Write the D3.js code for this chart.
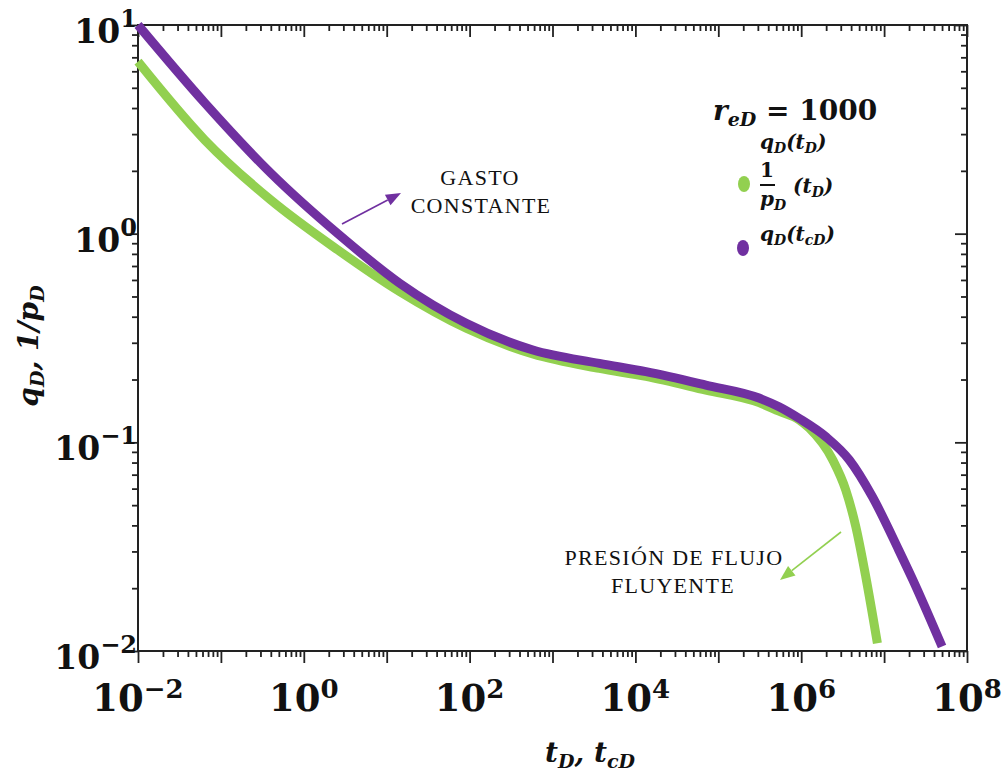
<!DOCTYPE html>
<html>
<head>
<meta charset="utf-8">
<script src="https://cdn.jsdelivr.net/npm/d3@7"></script>
<style>
    html, body { margin: 0; padding: 0; background: #fff; }
    .tick-label { font-family: "DejaVu Serif", serif; font-weight: bold; fill: #111; }
    .math { font-family: "DejaVu Serif", serif; font-weight: bold; font-style: italic; fill: #111; }
    .note { font-family: "Liberation Serif", "Times New Roman", serif; font-size: 22px; letter-spacing: 1.3px; fill: #111; }
</style>
</head>
<body>
<div id="chart"></div>
<script>
// constant rate curve, q_D(t_cD)
var tConst = [0.01, 0.064, 0.40, 2.57, 14.4, 91, 580, 3680, 13400, 70800, 3.1e5, 5.4e5, 9.5e5, 2.0e6, 3.8e6, 7.2e6, 1.5e7, 2.2e7, 5.0e7];
var qConst = [10, 4.23, 1.95, 1.0, 0.578, 0.372, 0.277, 0.239, 0.218, 0.188, 0.163, 0.148, 0.130, 0.106, 0.0824, 0.055, 0.0305, 0.0221, 0.0105];

// constant flowing pressure curve, 1/p_D(t_D)
var tPwf = [0.01, 0.064, 0.40, 2.57, 14.4, 91, 580, 3680, 13400, 70800, 3.1e5, 5.4e5, 9.5e5, 1.25e6, 2.4e6, 3.45e6, 4.56e6, 6.0e6, 8.3e6];
var qPwf = [6.67, 2.81, 1.45, 0.836, 0.527, 0.352, 0.265, 0.226, 0.207, 0.178, 0.155, 0.141, 0.128, 0.117, 0.0824, 0.059, 0.0394, 0.0228, 0.0109];

// decades that get a label
var xLabelExp = [-2, 0, 2, 4, 6, 8];
var yLabelExp = [-2, -1, 0, 1];

(function() {
    var width = 1005, height = 775;
    var margin = {top: 25, right: 38, bottom: 124, left: 138};
    var plotW = width - margin.left - margin.right,
        plotH = height - margin.top - margin.bottom;

    var purple = "#7030A0", green = "#92D050";

    var x = d3.scaleLog().domain([1e-2, 1e8]).range([0, plotW]);
    var y = d3.scaleLog().domain([1e-2, 1e1]).range([plotH, 0]);

    var svg = d3.select("#chart").append("svg")
        .attr("width", width)
        .attr("height", height);

    var plot = svg.append("g")
        .attr("transform", "translate(" + margin.left + ", " + margin.top + ")");

    function isMajor(v) {
        var l = Math.log10(v);
        return Math.abs(l - Math.round(l)) < 1e-9;
    }

    var xTicks = x.ticks(20), yTicks = y.ticks(20);
    var xMajor = xTicks.filter(isMajor), xMinor = xTicks.filter(function(v) { return !isMajor(v); });
    var yMajor = yTicks.filter(isMajor), yMinor = yTicks.filter(function(v) { return !isMajor(v); });

    // all ticks point down / left, on both sides of the frame
    function drawAxis(axisFn, scale, major, minor, translate) {
        var g = plot.append("g").attr("transform", translate);
        g.append("g").call(axisFn(scale).tickValues(minor).tickSize(6).tickFormat(""));
        g.append("g").call(axisFn(scale).tickValues(major).tickSize(12).tickFormat(""));
        g.selectAll(".domain").remove();
        g.selectAll("line").attr("stroke", "#222").attr("stroke-width", 1.8);
    }
    drawAxis(d3.axisBottom, x, xMajor, xMinor, "translate(0," + plotH + ")");
    drawAxis(d3.axisBottom, x, xMajor, xMinor, "translate(0,0)");
    drawAxis(d3.axisLeft, y, yMajor, yMinor, "translate(0,0)");
    drawAxis(d3.axisLeft, y, yMajor, yMinor, "translate(" + plotW + ",0)");

    plot.append("rect")
        .attr("width", plotW)
        .attr("height", plotH)
        .attr("fill", "none")
        .attr("stroke", "#222")
        .attr("stroke-width", 2);

    // tick labels with superscript exponents
    function expText(e) { return e < 0 ? "\u2212" + (-e) : "" + e; }

    xLabelExp.forEach(function(e) {
        var t = plot.append("text")
            .classed("tick-label", true)
            .attr("x", x(Math.pow(10, e)))
            .attr("y", plotH + 60)
            .attr("text-anchor", "middle")
            .style("font-size", "37px");
        t.append("tspan").text("10");
        t.append("tspan").attr("dy", -13).style("font-size", "26px").text(expText(e));
    });

    yLabelExp.forEach(function(e) {
        var t = plot.append("text")
            .classed("tick-label", true)
            .attr("x", -1)
            .attr("y", y(Math.pow(10, e)) + 18)
            .attr("text-anchor", "end")
            .style("font-size", "33px");
        t.append("tspan").text("10");
        t.append("tspan").attr("dy", -16).style("font-size", "24px").text(expText(e));
    });

    // curves
    var line = d3.line()
        .x(function(d) { return x(d[0]); })
        .y(function(d) { return y(d[1]); })
        .curve(d3.curveMonotoneX);

    var pwfData = tPwf.map(function(t, i) { return [t, qPwf[i]]; });
    var constData = tConst.map(function(t, i) { return [t, qConst[i]]; });

    plot.append("path")
        .datum(pwfData)
        .attr("d", line)
        .attr("fill", "none")
        .attr("stroke", green)
        .attr("stroke-width", 9)
        .attr("stroke-linejoin", "round");

    plot.append("path")
        .datum(constData)
        .attr("d", line)
        .attr("fill", "none")
        .attr("stroke", purple)
        .attr("stroke-width", 9)
        .attr("stroke-linejoin", "round");

    // math text: parts are [text, "sub"] or [text]; subscripts drop and shrink
    function mathText(parent, xPos, yPos, size, parts) {
        var t = parent.append("text").classed("math", true)
            .attr("x", xPos).attr("y", yPos).style("font-size", size + "px");
        var down = false, drop = Math.round(size * 0.22);
        parts.forEach(function(p) {
            var s = t.append("tspan").text(p[0]);
            if (p[1] == "sub") {
                s.style("font-size", Math.round(size * 0.68) + "px");
                if (!down) s.attr("dy", drop);
                down = true;
            } else {
                if (down) s.attr("dy", -drop);
                down = false;
                if (p[1] == "up") s.style("font-style", "normal");
            }
        });
        return t;
    }

    // axis titles
    mathText(svg, 0, 0, 28, [["q"], ["D", "sub"], [", 1/p"], ["D", "sub"]])
        .attr("transform", "translate(38, 346) rotate(-90)")
        .attr("text-anchor", "middle");

    mathText(svg, 590, 762, 28, [["t"], ["D", "sub"], [", t"], ["cD", "sub"]])
        .attr("text-anchor", "middle");

    // legend
    var legend = svg.append("g").classed("legend", true);

    mathText(legend, 713, 120, 28, [["r"], ["eD", "sub"], [" = 1000", "up"]]);

    mathText(legend, 760, 149, 20, [["q"], ["D", "sub"], ["(t"], ["D", "sub"], [")"]]);

    legend.append("ellipse").attr("cx", 744).attr("cy", 184).attr("rx", 6).attr("ry", 8).attr("fill", green);
    mathText(legend, 767, 177, 20, [["1", "up"]]).attr("text-anchor", "middle");
    legend.append("line")
        .attr("x1", 760).attr("x2", 775).attr("y1", 185).attr("y2", 185)
        .attr("stroke", "#111").attr("stroke-width", 2);
    mathText(legend, 760, 206, 20, [["p"], ["D", "sub"]]);
    mathText(legend, 793, 193, 20, [["(t"], ["D", "sub"], [")"]]);

    legend.append("ellipse").attr("cx", 743).attr("cy", 248).attr("rx", 6).attr("ry", 8).attr("fill", purple);
    mathText(legend, 760, 241, 20, [["q"], ["D", "sub"], ["(t"], ["cD", "sub"], [")"]]);

    // annotations
    function arrow(x1, y1, x2, y2, color) {
        var ang = Math.atan2(y2 - y1, x2 - x1), len = 15, half = 6;
        var bx = x2 - len * Math.cos(ang), by = y2 - len * Math.sin(ang);
        svg.append("line")
            .attr("x1", x1).attr("y1", y1).attr("x2", bx).attr("y2", by)
            .attr("stroke", color).attr("stroke-width", 1.6);
        svg.append("path")
            .attr("d", "M" + x2 + "," + y2 +
                "L" + (bx + half * Math.sin(ang)) + "," + (by - half * Math.cos(ang)) +
                "L" + (bx - half * Math.sin(ang)) + "," + (by + half * Math.cos(ang)) + "Z")
            .attr("fill", color);
    }

    svg.append("text").classed("note", true).attr("x", 480).attr("y", 185).attr("text-anchor", "middle").text("GASTO");
    svg.append("text").classed("note", true).attr("x", 481).attr("y", 213).attr("text-anchor", "middle").text("CONSTANTE");
    arrow(342, 224, 401, 193, purple);

    svg.append("text").classed("note", true).attr("x", 674).attr("y", 565).attr("text-anchor", "middle").text("PRESIÓN DE FLUJO");
    svg.append("text").classed("note", true).attr("x", 673).attr("y", 593).attr("text-anchor", "middle").text("FLUYENTE");
    arrow(841, 532, 780, 580, green);
})()
</script>
</body>
</html>
